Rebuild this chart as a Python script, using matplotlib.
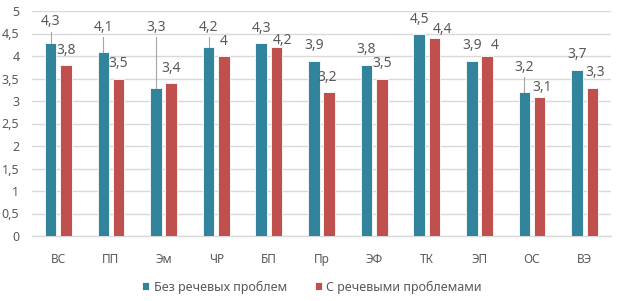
import matplotlib
matplotlib.use("Agg")
import matplotlib.pyplot as plt
import numpy as np

# ---- data ----
categories = ['ВС', 'ПП', 'Эм', 'ЧР', 'БП', 'Пр', 'ЭФ', 'ТК', 'ЭП', 'ОС', 'ВЭ']
no_problems = [4.3, 4.1, 3.3, 4.2, 4.3, 3.9, 3.8, 4.5, 3.9, 3.2, 3.7]
with_problems = [3.8, 3.5, 3.4, 4.0, 4.2, 3.2, 3.5, 4.4, 4.0, 3.1, 3.3]
series_names = ['Без речевых проблем', 'С речевыми проблемами']
yticks = [0, 0.5, 1, 1.5, 2, 2.5, 3, 3.5, 4, 4.5, 5]

# ---- label layout (offsets of data labels, like Excel's manual placement) ----
teal_dy = [0.46, 0.54, 1.34, 0.44, 0.32, 0.33, 0.34, 0.32, 0.33, 0.55, 0.33]
teal_leader = [True, True, True, True, False, False, False, False, False, True, False]
red_dy = [0.32, 0.34, 0.33, 0.32, 0.14, 0.32, 0.34, 0.18, 0.23, 0.19, 0.33]
red_dx = [0.01, 0, 0, 0, 0.105, -0.03, 0, 0.15, 0.15, 0.05, 0.06]

plt.rcParams['font.family'] = ['Noto Sans', 'DejaVu Sans']

teal = '#31849B'
red = '#C0504D'
txt = '#595959'
grid = '#D9D9D9'

fig = plt.figure(figsize=(6.21, 3.01), dpi=100)
ax = fig.add_axes([32/621, 65/301, (611-32)/621, (236-11)/301])

x = np.arange(len(categories))
w = 0.22
off = 0.145
ax.bar(x - off, no_problems, width=w, color=teal, edgecolor='white', linewidth=0.6,
       label=series_names[0], zorder=3)
ax.bar(x + off, with_problems, width=w, color=red, edgecolor='white', linewidth=0.6,
       label=series_names[1], zorder=3)

def fmt(v):
    return f"{v:g}".replace('.', ',')

for i in range(len(categories)):
    v = no_problems[i]
    ly = v + teal_dy[i]
    ax.text(x[i] - off, ly, fmt(v), ha='center', va='center', fontsize=10, color=txt, zorder=5)
    if teal_leader[i]:
        ax.plot([x[i] - off, x[i] - off], [v, ly - 0.22], color='#A6A6A6', lw=0.8, zorder=4)
    v2 = with_problems[i]
    ax.text(x[i] + off + red_dx[i], v2 + red_dy[i], fmt(v2), ha='center', va='center',
            fontsize=10, color=txt, zorder=5)

ax.set_xlim(-0.5, len(categories) - 0.5)
ax.set_ylim(0, 5)
ax.set_yticks(yticks)
ax.set_yticklabels([fmt(t) for t in yticks])
ax.set_xticks(x)
ax.set_xticklabels(categories)
ax.tick_params(axis='both', length=0, labelsize=8.5, colors=txt)
ax.tick_params(axis='y', pad=9, labelsize=9)
ax.tick_params(axis='x', pad=12)
ax.grid(axis='y', color=grid, linewidth=1)
ax.set_axisbelow(True)
for s in ['top', 'right', 'left']:
    ax.spines[s].set_visible(False)
ax.spines['bottom'].set_color(grid)
ax.spines['bottom'].set_linewidth(1)

fig.legend(loc='center', bbox_to_anchor=(312/621, 1 - 287/301), ncol=2, frameon=False,
           fontsize=9, handlelength=0.6, handleheight=0.6, handletextpad=0.35,
           columnspacing=2.2, labelcolor=txt)

fig.savefig('out.png', dpi=100)
